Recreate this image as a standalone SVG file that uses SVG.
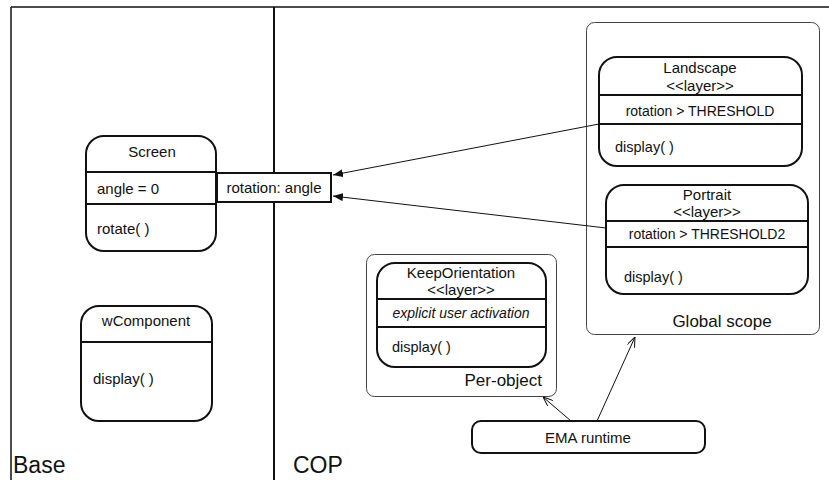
<svg xmlns="http://www.w3.org/2000/svg" width="829" height="480" viewBox="0 0 829 480">
<style>
text{font-family:"Liberation Sans",Arial,sans-serif;font-size:15px;fill:#111}
.node{fill:#fff;stroke:#111;stroke-width:2}
.div{stroke:#111;stroke-width:2}
.scope{fill:#fff;stroke:#444;stroke-width:1}
.c{text-anchor:middle}
.big{font-size:23px}
.mid{font-size:17px}
.cond{font-size:14px}
.op{font-size:14.5px}
.conn{stroke:#111;stroke-width:1;fill:none}
</style>
<defs>
<marker id="fa" viewBox="0 0 10 8" refX="10" refY="4" markerWidth="10" markerHeight="8" markerUnits="userSpaceOnUse" orient="auto">
<path d="M0,0 L10,4 L0,8 Z" fill="#111"/>
</marker>
<marker id="oa" viewBox="0 0 10 8" refX="10" refY="4" markerWidth="10" markerHeight="8" markerUnits="userSpaceOnUse" orient="auto">
<path d="M0,0 L10,4 L0,8" fill="none" stroke="#111" stroke-width="1"/>
</marker>
</defs>
<rect width="829" height="480" fill="#fff"/>
<g id="frame">
<line x1="11" y1="7" x2="829" y2="7" stroke="#111" stroke-width="1.5"/>
<line x1="11" y1="7" x2="11" y2="480" stroke="#111" stroke-width="1.5"/>
<line x1="274" y1="7" x2="274" y2="480" stroke="#111" stroke-width="2"/>
<text x="13" y="473" class="big">Base</text>
<text x="293" y="473" class="big">COP</text>
</g>
<g id="global-scope">
<rect x="586.5" y="22.5" width="233" height="312" rx="8" class="scope"/>
<text x="722" y="327" class="c mid">Global scope</text>
</g>
<g id="per-object">
<rect x="366.5" y="254.5" width="190" height="142" rx="8" class="scope"/>
<text x="542" y="386" class="mid" text-anchor="end">Per-object</text>
</g>
<g id="screen">
<rect x="86" y="136" width="130" height="115" rx="18" class="node"/>
<line x1="86" y1="172" x2="216" y2="172" class="div"/>
<line x1="86" y1="204" x2="216" y2="204" class="div"/>
<text x="152" y="157" class="c">Screen</text>
<text x="97" y="194">angle = 0</text>
<text x="97" y="234">rotate( )</text>
</g>
<g id="rotation-angle">
<rect x="217" y="173" width="114" height="29" fill="#fff" stroke="#111" stroke-width="2"/>
<text x="274" y="193" class="c">rotation: angle</text>
</g>
<g id="wcomponent">
<rect x="81" y="306" width="131" height="115" rx="18" class="node"/>
<line x1="81" y1="342" x2="212" y2="342" class="div"/>
<text x="146" y="326" class="c">wComponent</text>
<text x="93" y="384">display( )</text>
</g>
<g id="landscape">
<rect x="599" y="57" width="203" height="109" rx="18" class="node"/>
<line x1="599" y1="95" x2="802" y2="95" class="div"/>
<line x1="599" y1="124" x2="802" y2="124" class="div"/>
<text x="700" y="73" class="c">Landscape</text>
<text x="700" y="91" class="c">&lt;&lt;layer&gt;&gt;</text>
<text x="700" y="116" class="c cond">rotation &gt; THRESHOLD</text>
<text x="615" y="152" class="op">display( )</text>
</g>
<g id="portrait">
<rect x="606" y="185" width="202" height="109" rx="18" class="node"/>
<line x1="606" y1="221" x2="808" y2="221" class="div"/>
<line x1="606" y1="247" x2="808" y2="247" class="div"/>
<text x="707" y="200" class="c">Portrait</text>
<text x="707" y="217" class="c">&lt;&lt;layer&gt;&gt;</text>
<text x="707" y="239" class="c cond">rotation &gt; THRESHOLD2</text>
<text x="624" y="282" class="op">display( )</text>
</g>
<g id="keeporientation">
<rect x="377" y="263" width="169" height="104" rx="18" class="node"/>
<line x1="377" y1="299" x2="546" y2="299" class="div"/>
<line x1="377" y1="327" x2="546" y2="327" class="div"/>
<text x="461" y="278" class="c">KeepOrientation</text>
<text x="461" y="295" class="c">&lt;&lt;layer&gt;&gt;</text>
<text x="461" y="318" class="c cond" font-style="italic">explicit user activation</text>
<text x="392" y="352" class="op">display( )</text>
</g>
<g id="ema-runtime">
<rect x="472" y="421" width="233" height="32" rx="9" class="node"/>
<text x="588" y="443" class="c" font-size="15.5">EMA runtime</text>
</g>
<g id="connectors">
<line x1="599" y1="124" x2="333" y2="175" class="conn" marker-end="url(#fa)"/>
<line x1="606" y1="228" x2="333" y2="196" class="conn" marker-end="url(#fa)"/>
<line x1="571" y1="421" x2="543" y2="397" class="conn" marker-end="url(#oa)"/>
<line x1="597" y1="421" x2="635" y2="337" class="conn" marker-end="url(#oa)"/>
</g>
</svg>
